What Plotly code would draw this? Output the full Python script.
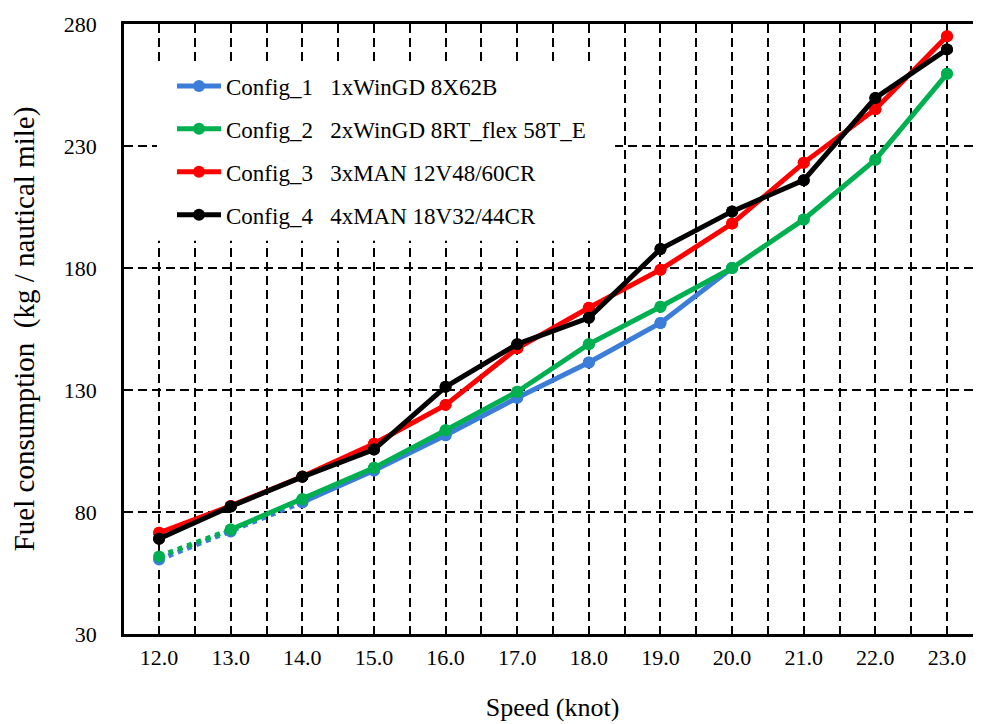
import plotly.graph_objects as go

speeds = [12.0, 13.0, 14.0, 15.0, 16.0, 17.0, 18.0, 19.0, 20.0, 21.0, 22.0, 23.0]
config1 = [60.5, 72.0, 84.0, 97.0, 111.5, 126.8, 141.3, 157.5, 180.0]
config2 = [61.8, 72.8, 85.2, 98.1, 113.5, 129.3, 148.8, 164.1, 180.0, 199.9, 224.4, 259.6]
config3 = [71.5, 82.5, 94.5, 108.0, 123.9, 147.1, 163.7, 179.3, 198.2, 223.1, 245.1, 275.0]
config4 = [69.0, 82.3, 94.4, 105.6, 131.3, 148.8, 159.6, 187.8, 203.2, 216.0, 249.7, 269.6]
names = ["Config_1\u00a0\u00a0\u00a01xWinGD 8X62B",
         "Config_2\u00a0\u00a0\u00a02xWinGD 8RT_flex 58T_E",
         "Config_3\u00a0\u00a0\u00a03xMAN 12V48/60CR",
         "Config_4\u00a0\u00a0\u00a04xMAN 18V32/44CR"]
colors = ["#3B7DD8", "#00B050", "#FF0000", "#000000"]
x_ticks = [12.0, 13.0, 14.0, 15.0, 16.0, 17.0, 18.0, 19.0, 20.0, 21.0, 22.0, 23.0]
y_ticks = [30, 80, 130, 180, 230, 280]

# index where the solid part starts (before it: dotted extrapolation)
solid_start = [2, 1, 0, 0]
series = [config1, config2, config3, config4]

LW = 5
MS = 12
fig = go.Figure()
for i, (vals, col, nm, s0) in enumerate(zip(series, colors, names, solid_start)):
    xs = speeds[:len(vals)]
    if s0 > 0:
        fig.add_trace(go.Scatter(
            x=xs[:s0 + 1], y=vals[:s0 + 1], mode="lines",
            line=dict(color=col, width=LW, dash="dot"),
            showlegend=False, hoverinfo="skip"))
    fig.add_trace(go.Scatter(
        x=xs, y=vals, mode="markers", marker=dict(color=col, size=MS),
        showlegend=False))
    fig.add_trace(go.Scatter(
        x=xs[s0:], y=vals[s0:], mode="lines+markers", name=nm,
        legendgroup="g%d" % i,
        line=dict(color=col, width=LW), marker=dict(color=col, size=MS)))

font_family = "Liberation Serif, Times New Roman, serif"
GRID_DASH = "9px,5px"
# The page body has an 8px margin; size the figure so it fits the window.
fig.update_layout(
    width=973, height=716,
    margin=dict(l=116, r=0, t=16, b=90),
    plot_bgcolor="white", paper_bgcolor="white",
    font=dict(family=font_family, size=22, color="black"),
    showlegend=True,
    legend=dict(x=0.056, y=0.9336, xanchor="left", yanchor="top",
                bgcolor="rgba(255,255,255,0)", borderwidth=0,
                font=dict(family=font_family, size=23, color="black"),
                traceorder="grouped", tracegroupgap=10,
                itemwidth=44),
    shapes=[dict(type="rect", xref="paper", yref="paper",
                 x0=0.0385, x1=0.573, y0=0.6445, y1=0.937,
                 fillcolor="white", line=dict(width=0), layer="above")],
    xaxis=dict(
        range=[11.51, 23.475], tickvals=x_ticks,
        ticktext=["%.1f" % v for v in x_ticks],
        showline=True, linecolor="black", linewidth=2.5, mirror=True,
        showgrid=True, gridcolor="black", gridwidth=2, griddash=GRID_DASH,
        ticks="", ticklabelstandoff=2,
        minor=dict(dtick=0.5, tick0=11.5, showgrid=True, gridcolor="black",
                   gridwidth=2, griddash=GRID_DASH, ticks=""),
        zeroline=False,
        title=dict(text="Speed (knot)", font=dict(size=26), standoff=29),
    ),
    yaxis=dict(
        range=[30, 280], tickvals=y_ticks,
        showline=True, linecolor="black", linewidth=2.5, mirror=False,
        showgrid=True, gridcolor="black", gridwidth=2, griddash=GRID_DASH,
        ticks="", ticklabelstandoff=20, zeroline=False,
        title=dict(text="Fuel consumption\u00a0\u00a0(kg / nautical mile)",
                   font=dict(size=29), standoff=22),
    ),
)
fig.write_html("out.html")
